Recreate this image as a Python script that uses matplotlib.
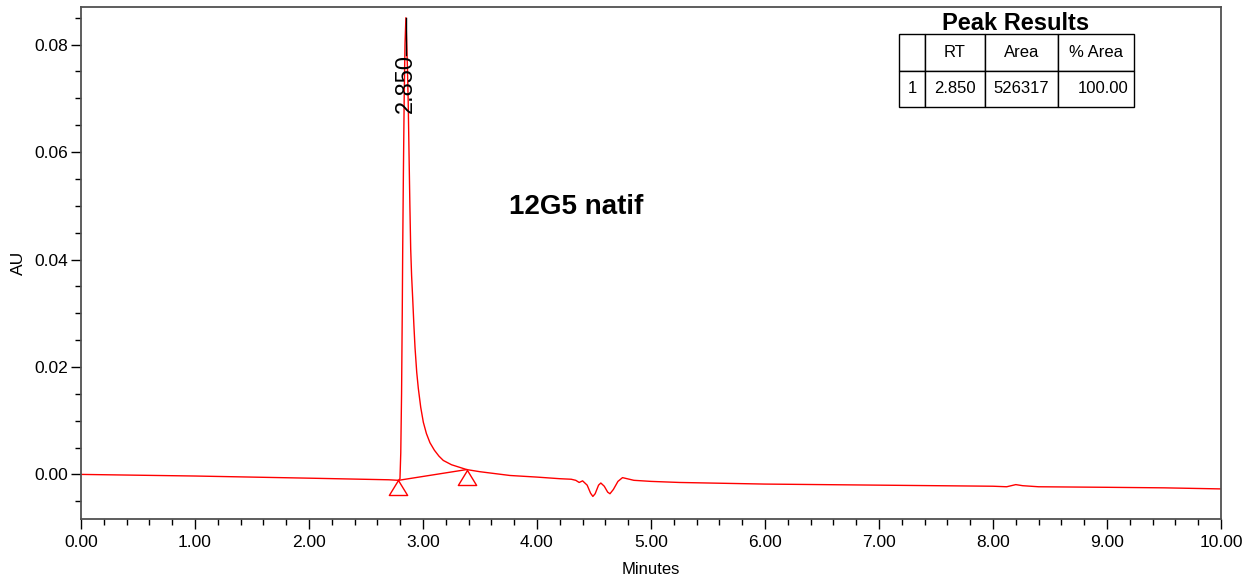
import matplotlib
matplotlib.use('Agg')
import matplotlib.pyplot as plt
from matplotlib.ticker import MultipleLocator, FormatStrFormatter

plt.rcParams['font.family'] = ['Liberation Sans', 'DejaVu Sans']

# chromatogram trace (minutes, AU)
minutes = [0.00, 1.00, 2.00, 2.70, 2.785, 2.798, 2.805, 2.812, 2.818, 2.822,
           2.828, 2.835, 2.842, 2.850, 2.856, 2.863, 2.870, 2.878, 2.885, 2.892,
           2.900, 2.909, 2.920, 2.930, 2.945, 2.959, 2.980, 3.003, 3.030, 3.061,
           3.100, 3.140, 3.178, 3.250, 3.383, 3.500, 3.650, 3.763, 4.000, 4.200,
           4.300, 4.340, 4.370, 4.400, 4.440, 4.470, 4.490, 4.510, 4.540, 4.560,
           4.590, 4.620, 4.640, 4.670, 4.710, 4.750, 4.790, 4.850, 5.000, 5.250,
           5.500, 6.000, 6.500, 7.000, 7.500, 8.000, 8.120, 8.200, 8.260, 8.400,
           9.000, 9.500, 10.00]
au = [0.0000, -0.0003, -0.0007, -0.0010, -0.0011, -0.0008, 0.0040, 0.0150, 0.0300, 0.0420,
      0.0560, 0.0700, 0.0800, 0.0850, 0.0810, 0.0760, 0.0696, 0.0590, 0.0500, 0.0420,
      0.0370, 0.0330, 0.0278, 0.0236, 0.0190, 0.0160, 0.0125, 0.0097, 0.0076, 0.0059,
      0.0045, 0.0034, 0.0026, 0.0018, 0.0009, 0.0005, 0.0001, -0.0002, -0.0005, -0.0008,
      -0.0009, -0.0011, -0.0015, -0.0012, -0.0020, -0.0035, -0.0041, -0.0036, -0.0020, -0.0016,
      -0.0022, -0.0033, -0.0036, -0.0028, -0.0013, -0.0006, -0.0008, -0.0011, -0.0013, -0.0015,
      -0.0016, -0.0018, -0.0019, -0.0020, -0.0021, -0.0022, -0.0023, -0.0019, -0.0021, -0.0023,
      -0.0024, -0.0025, -0.0027]

# integration baseline (start / end of peak)
base_min = [2.785, 3.383]
base_au = [-0.0011, 0.0009]

peak_rt = 2.850
peak_top = 0.0850
peak_label = '2.850'
sample_name = '12G5 natif'

table_cols = ['', 'RT', 'Area', '% Area']
table_rows = [['1', '2.850', '526317', '100.00']]

fig = plt.figure(figsize=(12.58, 5.83), dpi=100)
ax = fig.add_axes([81 / 1258, 1 - 519 / 583, 1140 / 1258, 512 / 583])

red = '#ff0000'
ax.plot(minutes, au, color=red, lw=1.0)
ax.plot(base_min, base_au, color=red, lw=1.0)

# open triangles hanging below the baseline points
tri = [(0, 0), (-0.55, -0.9), (0.55, -0.9), (0, 0)]
ax.plot(base_min, base_au, ls='none', marker=tri, markersize=21.6,
        markerfacecolor='none', markeredgecolor=red, markeredgewidth=1.0)

# apex marker and retention time label
ax.plot([peak_rt, peak_rt], [0.078, peak_top], color='black', lw=1.0)
ax.text(peak_rt, 0.0727, peak_label, rotation=90, ha='center', va='center', fontsize=17)

ax.text(4.34, 0.0498, sample_name, ha='center', va='center', fontsize=20, fontweight='bold')

ax.set_xlim(0, 10)
ax.set_ylim(-0.0083, 0.0870)
ax.xaxis.set_major_locator(MultipleLocator(1))
ax.xaxis.set_minor_locator(MultipleLocator(0.2))
ax.yaxis.set_major_locator(MultipleLocator(0.02))
ax.yaxis.set_minor_locator(MultipleLocator(0.005))
ax.xaxis.set_major_formatter(FormatStrFormatter('%.2f'))
ax.yaxis.set_major_formatter(FormatStrFormatter('%.2f'))
ax.tick_params(which='major', length=7.5, width=1, labelsize=12.5, direction='out', pad=2)
ax.tick_params(which='minor', length=4.3, width=1, direction='out')
ax.tick_params(axis='x', which='major', pad=4)
for s in ax.spines.values():
    s.set_color('#505050')
    s.set_linewidth(1.3)

ax.set_xlabel('Minutes', fontsize=12, labelpad=9)
ax.set_ylabel('AU', fontsize=12.5, labelpad=6)

# peak results table
ax.text(0.820, 0.967, 'Peak Results', transform=ax.transAxes, ha='center', va='center',
        fontsize=17, fontweight='bold')
tbl = ax.table(cellText=table_rows, colLabels=table_cols,
               colWidths=[26, 60, 73, 76], cellLoc='center',
               bbox=[0.7175, 0.8047, 0.2062, 0.1425])
tbl.auto_set_font_size(False)
tbl.set_fontsize(12)
for (r, c), cell in tbl.get_celld().items():
    cell.set_edgecolor('black')
    cell.set_linewidth(1.0)
    if r == 1 and c == 3:
        cell.set_text_props(ha='right')
        cell.PAD = 0.07

fig.savefig('out.png', dpi=100)
